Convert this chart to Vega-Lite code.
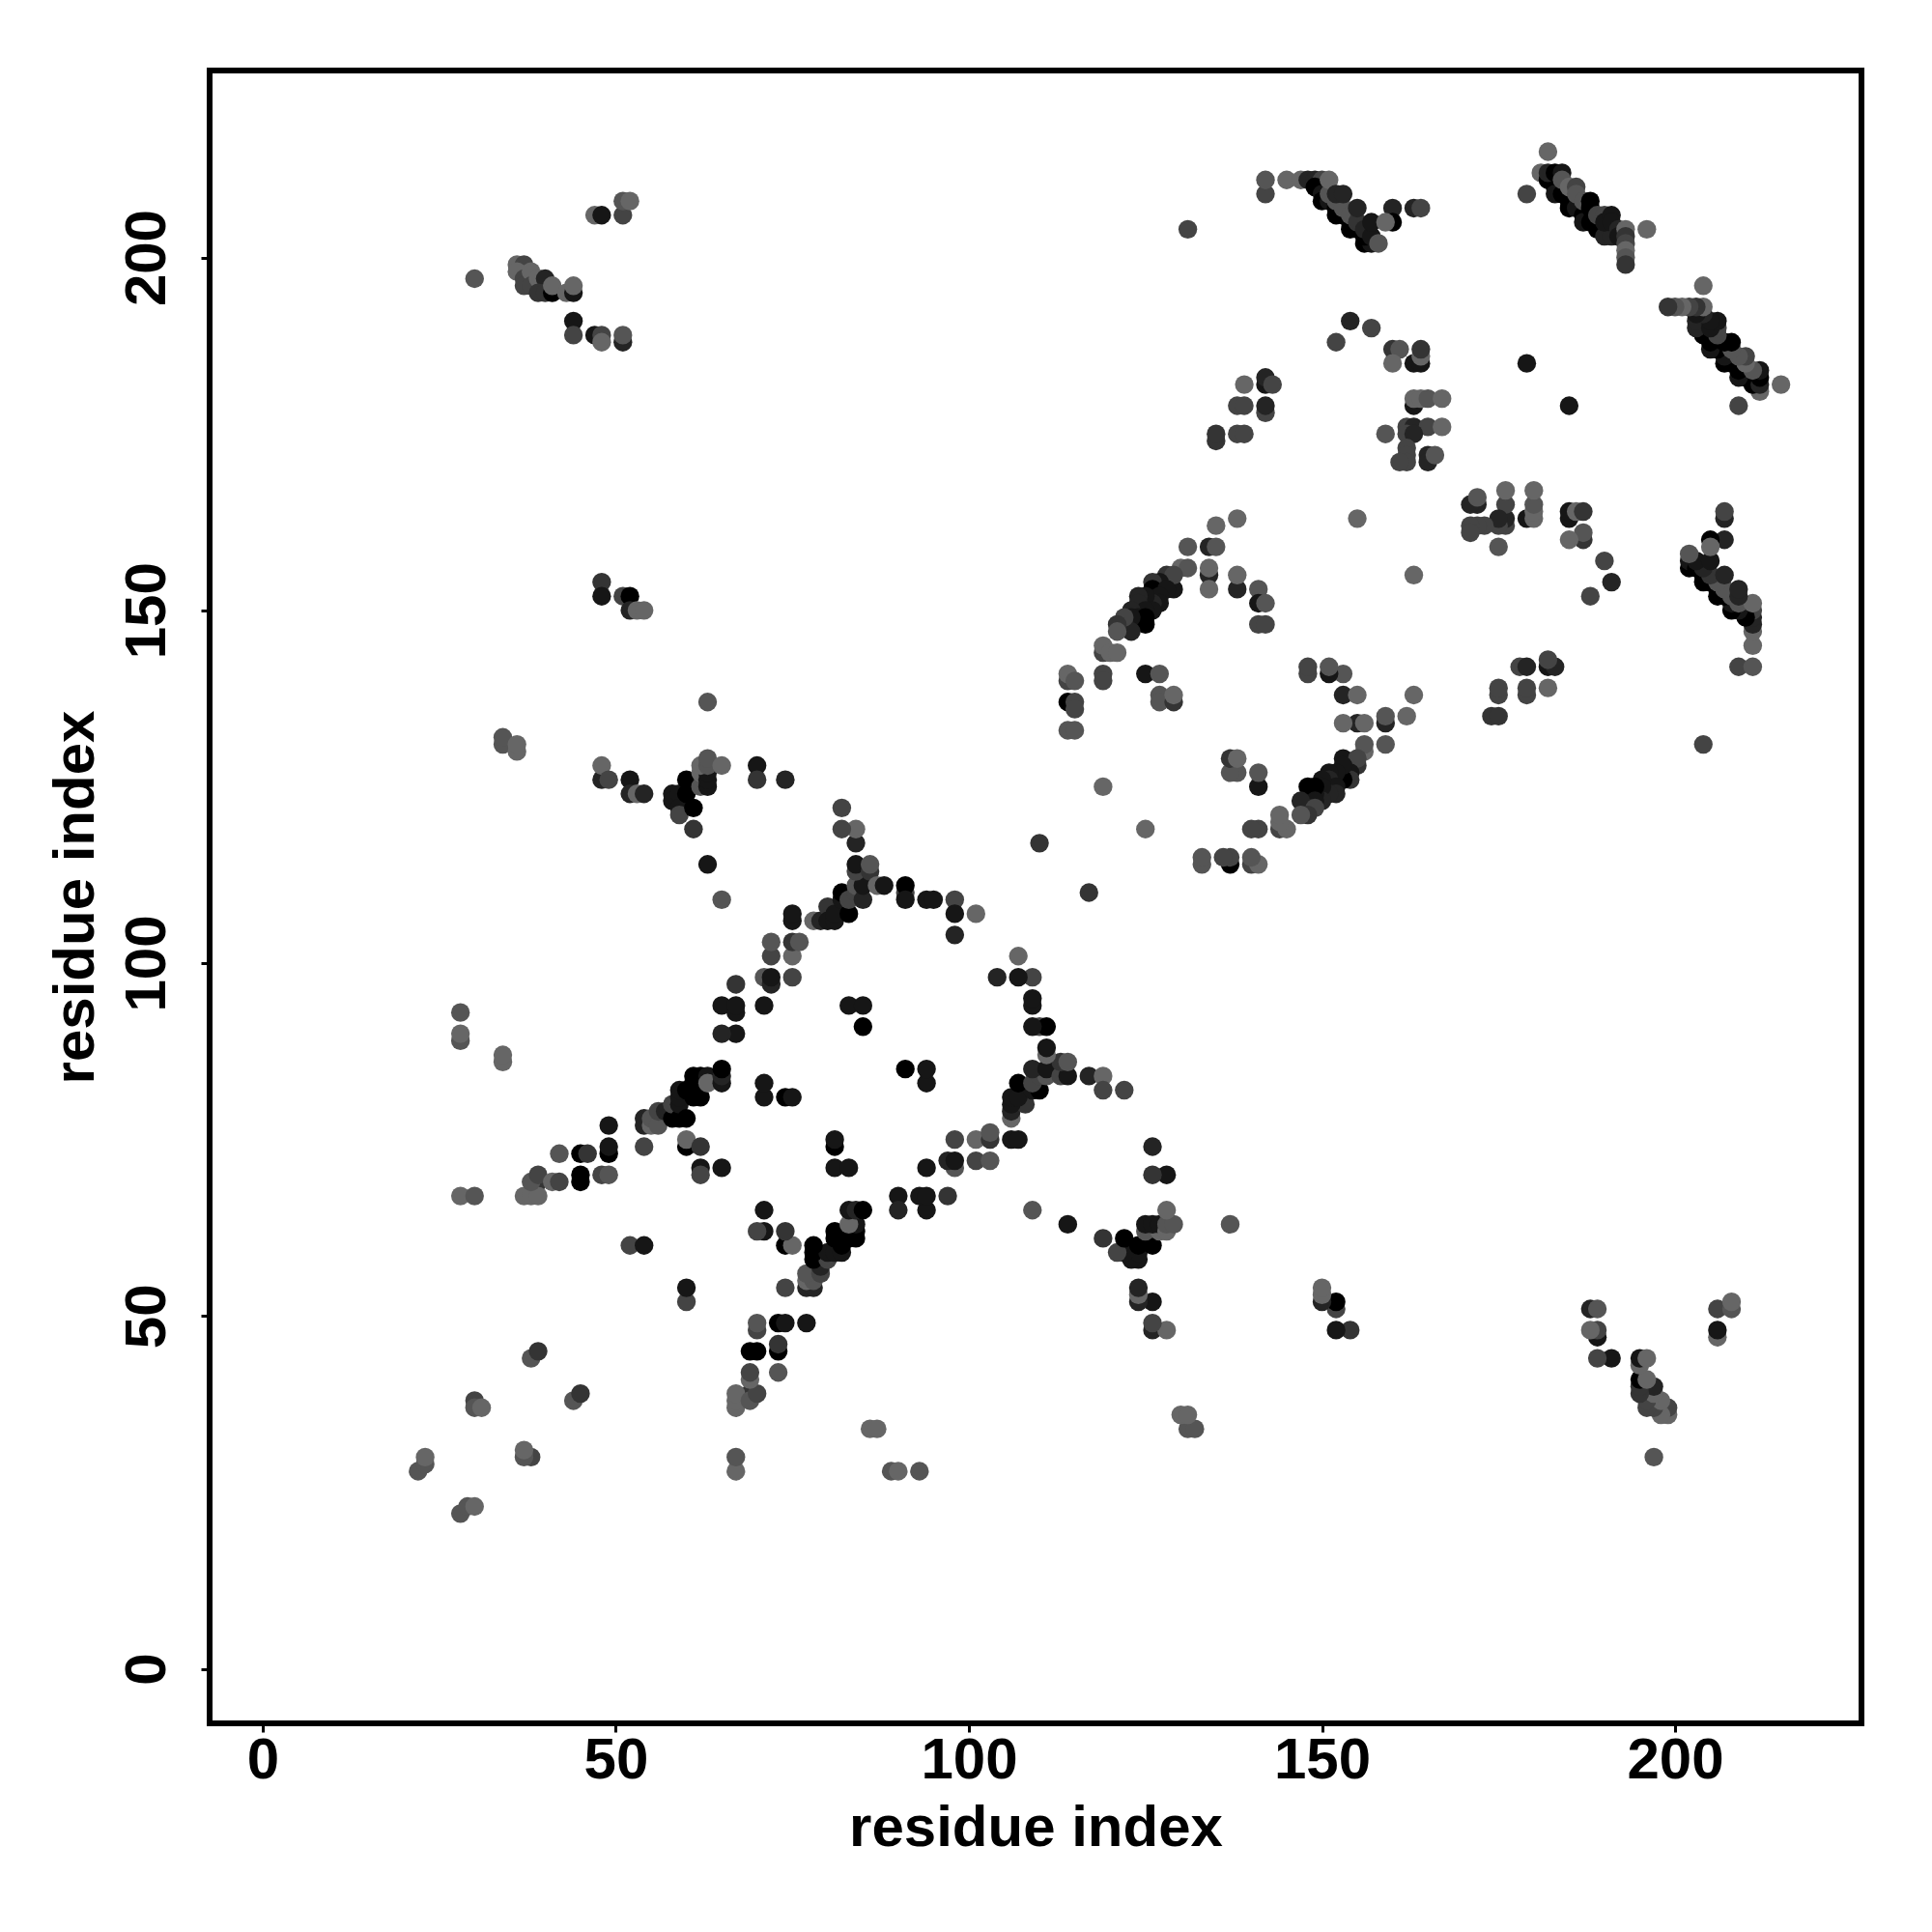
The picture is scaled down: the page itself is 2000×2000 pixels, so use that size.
{"$schema":"https://vega.github.io/schema/vega-lite/v6.json","autosize":{"type":"none"},"padding":{"left":217,"top":73,"right":73,"bottom":216},"width":1710,"height":1711,"background":"white",
"config":{"view":{"stroke":"#000000","strokeWidth":6,"fill":"white"},"axis":{"grid":false,"domain":false,"tickColor":"#000","tickWidth":3,"tickSize":9,"labelFont":"Liberation Sans","labelFontWeight":"bold","labelFontSize":60,"labelColor":"#000","titleFont":"Liberation Sans","titleFontWeight":"bold","titleFontSize":60,"titleColor":"#000","labelOverlap":false,"labelBound":false,"labelFlush":false},"axisX":{"labelPadding":0,"titlePadding":11},"axisY":{"labelAngle":270,"labelAlign":"center","labelBaseline":"line-bottom","labelPadding":24,"titlePadding":13}},
"data":{"values":[
[22,28,5],[23,29,5],[23,30,6],[30,38,4],[30,37,5],[31,37,6],[38,44,5],[39,45,3],[28,67,6],[30,67,5],[28,89,5],[28,90,6],[28,93,5],[34,86,6],[34,87,6],[34,131,5],[34,132,5],[36,130,6],[36,131,6],[30,197,5],
[39,69,3],[37,67,6],[38,67,6],[39,67,6],[38,69,5],[39,70,4],[41,69,6],[42,69,4],[42,73,5],[45,73,0],[46,73,3],[45,69,0],[45,70,0],[48,70,4],[49,70,5],[49,73,0],[49,74,1],[49,77,1],[52,60,4],[54,60,1],
[54,74,4],[54,77,2],[54,78,2],[55,77,6],[55,78,5],[56,77,5],[56,79,4],[57,79,2],[58,78,0],[58,80,4],[59,78,0],[59,80,1],[59,81,1],[59,82,1],[60,78,0],[60,82,0],[60,74,0],[60,75,6],[62,74,3],[61,81,0],[61,83,0],[61,84,0],[62,81,0],[62,84,0],[62,71,1],[62,70,4],[65,71,1],[63,84,1],[63,83,6],[65,83,1],[65,84,2],[65,85,0],
[67,90,1],[65,90,2],[65,94,1],[67,93,1],[67,94,1],[67,97,3],[71,98,5],[72,97,2],[72,98,1],[75,98,4],[71,94,1],[72,101,4],[72,103,5],[75,101,6],[75,103,3],[76,103,5],[75,106,1],[75,107,1],[71,81,1],[71,83,1],[74,81,0],[75,81,1],
[78,106,6],[79,106,2],[80,108,3],[80,106,1],[81,106,1],[81,107,1],[82,109,1],[82,110,0],[83,107,0],[83,109,4],[84,110,4],[84,111,5],[85,109,2],[85,111,1],[84,113,4],[84,114,1],[86,113,3],[86,114,5],[84,117,2],[84,119,6],[82,119,4],[82,122,4],[87,111,6],[88,111,1],[91,110,4],[91,111,0],[91,109,1],[94,109,1],[95,109,1],[98,109,4],[98,107,1],[98,104,2],[101,107,6],[83,94,1],[85,94,1],[85,91,0],[74,126,2],
[48,126,2],[48,128,6],[49,126,4],[52,126,1],[52,124,2],[53,124,6],[54,124,2],[58,124,1],[58,123,1],[59,124,1],[59,122,1],[59,121,4],[60,124,0],[60,126,0],[61,122,0],[61,119,3],[62,125,5],[62,127,6],[63,125,1],[63,126,1],[63,127,1],[62,128,6],[63,128,5],[63,129,5],[65,128,6],[70,128,1],[70,126,3],[63,137,5],[63,114,1],[65,109,5],
[36,199,6],[37,199,4],[36,198,6],[37,197,4],[37,196,4],[38,198,6],[38,196,4],[39,197,6],[40,197,2],[39,195,3],[40,195,3],[41,195,0],[41,196,6],[43,195,6],[44,195,1],[44,196,6],[44,191,1],[44,189,4],[47,189,1],[48,189,4],[48,188,6],[51,188,2],[51,189,5],[47,206,6],[48,206,1],[51,206,4],[51,208,5],[52,208,6],[48,154,3],[48,152,1],[51,152,4],[52,152,0],[52,150,2],[53,150,6],[54,150,6],
[131,159,5],[134,159,2],[135,159,5],[135,162,6],[138,163,6],[130,156,6],[131,156,5],[134,155,2],[134,156,6],[134,153,6],[138,153,2],[138,155,6],[141,153,5],[141,151,1],[142,151,5],[141,148,4],[142,148,4],
[128,155,3],[129,153,1],[129,155,4],[127,154,1],[126,154,3],[126,153,0],[128,153,1],[127,152,1],[127,151,1],[126,151,2],[125,152,1],[124,152,2],[124,151,2],[126,150,1],[125,150,1],[123,150,2],[124,149,1],[125,149,0],[125,148,0],[123,149,1],[122,148,2],[123,147,2],[122,149,4],[121,148,3],[121,147,5],[119,144,4],[119,145,6],[120,144,6],[121,144,6],[119,141,4],[119,140,4],[114,140,4],[114,141,6],[115,140,5],[114,137,0],[115,137,4],[115,136,4],[114,133,5],[115,133,5],[125,141,1],[127,141,5],[127,138,5],[127,137,5],[129,137,3],[129,138,6],[119,125,6],[110,117,3],[131,204,4],
[135,174,3],[135,175,3],[138,175,4],[139,175,4],[138,179,4],[139,179,4],[139,182,6],[142,182,1],[142,183,2],[143,182,4],[142,178,4],[142,179,2],[155,163,6],
[142,209,4],[142,211,5],[145,211,6],[147,211,6],[148,211,2],[149,211,2],[150,211,4],[149,210,0],[150,209,1],[150,208,0],[151,208,1],[152,207,0],[152,206,0],[153,206,0],[154,204,0],[154,205,0],[155,204,0],[156,202,0],[157,202,1],[156,203,0],[151,209,5],[152,208,5],[153,207,5],[154,206,5],[155,205,3],[156,204,2],[157,203,1],[151,211,6],[152,209,2],[153,209,2],[155,207,2],[157,205,1],[158,202,5],[160,207,2],[160,205,0],[159,205,6],[163,207,2],[164,207,4],
[182,215,6],[181,212,6],[182,211,0],[183,211,0],[183,210,0],[183,209,1],[184,209,0],[185,208,0],[185,207,0],[186,207,1],[187,206,0],[187,205,1],[188,205,0],[189,204,0],[190,203,2],[191,203,2],[182,212,2],[183,212,0],[184,212,1],[184,211,5],[185,210,6],[186,210,4],[186,209,5],[187,208,5],[188,208,0],[188,207,0],[189,206,4],[190,206,4],[190,205,1],[191,206,1],[191,205,1],[192,204,2],[192,203,1],[193,204,6],[193,203,3],[193,202,4],[193,201,6],[193,200,5],[193,199,3],[196,204,6],[179,209,4],
[154,191,2],[157,190,4],[152,188,4],[160,187,3],[161,187,5],[160,185,6],[163,185,1],[164,185,1],[164,186,6],[164,187,3],[179,185,1],[163,179,1],[163,180,6],[164,180,6],[165,180,5],[167,180,6],[162,176,4],[163,176,2],[165,176,4],[167,176,6],[159,175,5],[162,175,4],[163,175,2],[162,173,4],[162,172,4],[162,171,4],[161,171,4],[165,172,2],[165,171,2],[166,172,5]
]},
"transform":[{"calculate":"datum[0]","as":"a"},{"calculate":"datum[1]","as":"b"},{"calculate":"datum[2]","as":"s"}],
"layer":[
{"mark":{"type":"point","shape":"circle","filled":true,"size":375,"opacity":1,"strokeWidth":0},"encoding":{"x":{"field":"a","type":"quantitative","title":"residue index","axis":{"values":[0,50,100,150,200]},"scale":{"domain":[-7.52,226.4],"nice":false,"zero":false}},"y":{"field":"b","type":"quantitative","title":"residue index","axis":{"values":[0,50,100,150,200]},"scale":{"domain":[-7.73,226.5],"nice":false,"zero":false}},"color":{"field":"s","type":"quantitative","legend":null,"scale":{"domain":[0,6],"range":["#000000","#666666"]}}}},
{"mark":{"type":"point","shape":"circle","filled":true,"size":375,"opacity":1,"strokeWidth":0},"encoding":{"x":{"field":"b","type":"quantitative","title":"residue index","axis":{"values":[0,50,100,150,200]},"scale":{"domain":[-7.52,226.4],"nice":false,"zero":false}},"y":{"field":"a","type":"quantitative","title":"residue index","axis":{"values":[0,50,100,150,200]},"scale":{"domain":[-7.73,226.5],"nice":false,"zero":false}},"color":{"field":"s","type":"quantitative","legend":null,"scale":{"domain":[0,6],"range":["#000000","#666666"]}}}}
]}
